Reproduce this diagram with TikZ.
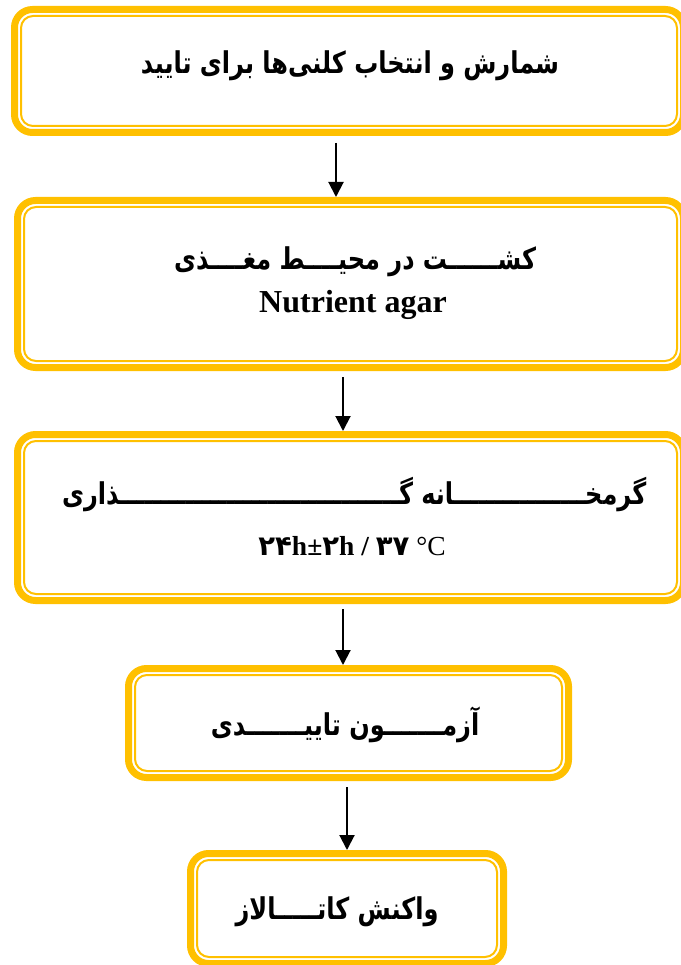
\documentclass[tikz,border=0pt]{standalone}
\usepackage{fontspec}
\setmainfont{Liberation Serif}
\newfontfamily\fa[Script=Arabic]{DejaVu Sans}
\TeXXeTstate=1
\usetikzlibrary{arrows.meta}
\definecolor{gold}{HTML}{FFC000}
\newcommand{\fatxt}[1]{\scalebox{0.8}[1]{\beginR #1\endR}}
\begin{document}
\begin{tikzpicture}[x=1pt,y=-1pt,
  box/.style 2 args={draw=gold,line width=7pt,rounded corners=18pt,minimum width=#1,minimum height=#2,inner sep=0pt,outer sep=0pt},
  innerline/.style={draw=gold,line width=2pt,rounded corners=12pt},
  fatext/.style={inner sep=0pt,font=\fa\bfseries\fontsize{30}{34}\selectfont},
  entext/.style={inner sep=0pt,font=\bfseries\fontsize{32}{36}\selectfont},
  flow/.style={line width=2pt,-{Triangle[width=15pt,length=15pt]}}]
\useasboundingbox (0,0) rectangle (680,965);
% boxes
\node[box={669pt}{123pt}] (b1) at (349,71) {};
\node[box={666pt}{167pt}] (b2) at (350.5,284) {};
\node[box={666pt}{166pt}] (b3) at (350.5,517.5) {};
\node[box={440pt}{109pt}] (b4) at (348.5,723) {};
\node[box={313pt}{110pt}] (b5) at (347,908.5) {};
\foreach \b in {b1,b2,b3,b4,b5}{
  \draw[innerline] ([xshift=6.5pt,yshift=-6.5pt]\b.north west) rectangle ([xshift=-6.5pt,yshift=6.5pt]\b.south east);
}
% texts
\node[fatext] (t1) at (350,66) {\fatxt{شمارش و انتخاب کلنی‌ها برای تایید}};
\node[fatext] (t2a) at (355,262) {\fatxt{کشــــــت در محیــــط مغــــذی}};
\node[entext] (t2b) at (353,305) {Nutrient agar};
\node[fatext] (t3a) at (354,495) {\fatxt{گرمخــــــــــــــــانه گــــــــــــــــــــــــــــــــــذاری}};
\node[entext,font=\bfseries\fontsize{27.5}{31}\selectfont] (t3b) at (352,546) {{\fa ۲۴}h±{\fa ۲}h / {\fa ۳۷} \mdseries °C};
\node[fatext] (t4) at (345,725) {\fatxt{آزمـــــــون تاییـــــــدی}};
\node[fatext] (t5) at (337,912) {\fatxt{واکنش کاتـــــالاز}};
% arrows
\draw[flow] ([xshift=-13pt,yshift=-10.5pt]b1.south) -- ([xshift=-14.5pt,yshift=3.5pt]b2.north);
\draw[flow] ([xshift=-7.5pt,yshift=-9.5pt]b2.south) -- ([xshift=-7.5pt,yshift=3.5pt]b3.north);
\draw[flow] ([xshift=-7.5pt,yshift=-8.5pt]b3.south) -- ([xshift=-5.5pt,yshift=3.5pt]b4.north);
\draw[flow] ([xshift=-1.5pt,yshift=-9.5pt]b4.south) -- ([yshift=3.5pt]b5.north);
\end{tikzpicture}
\end{document}
